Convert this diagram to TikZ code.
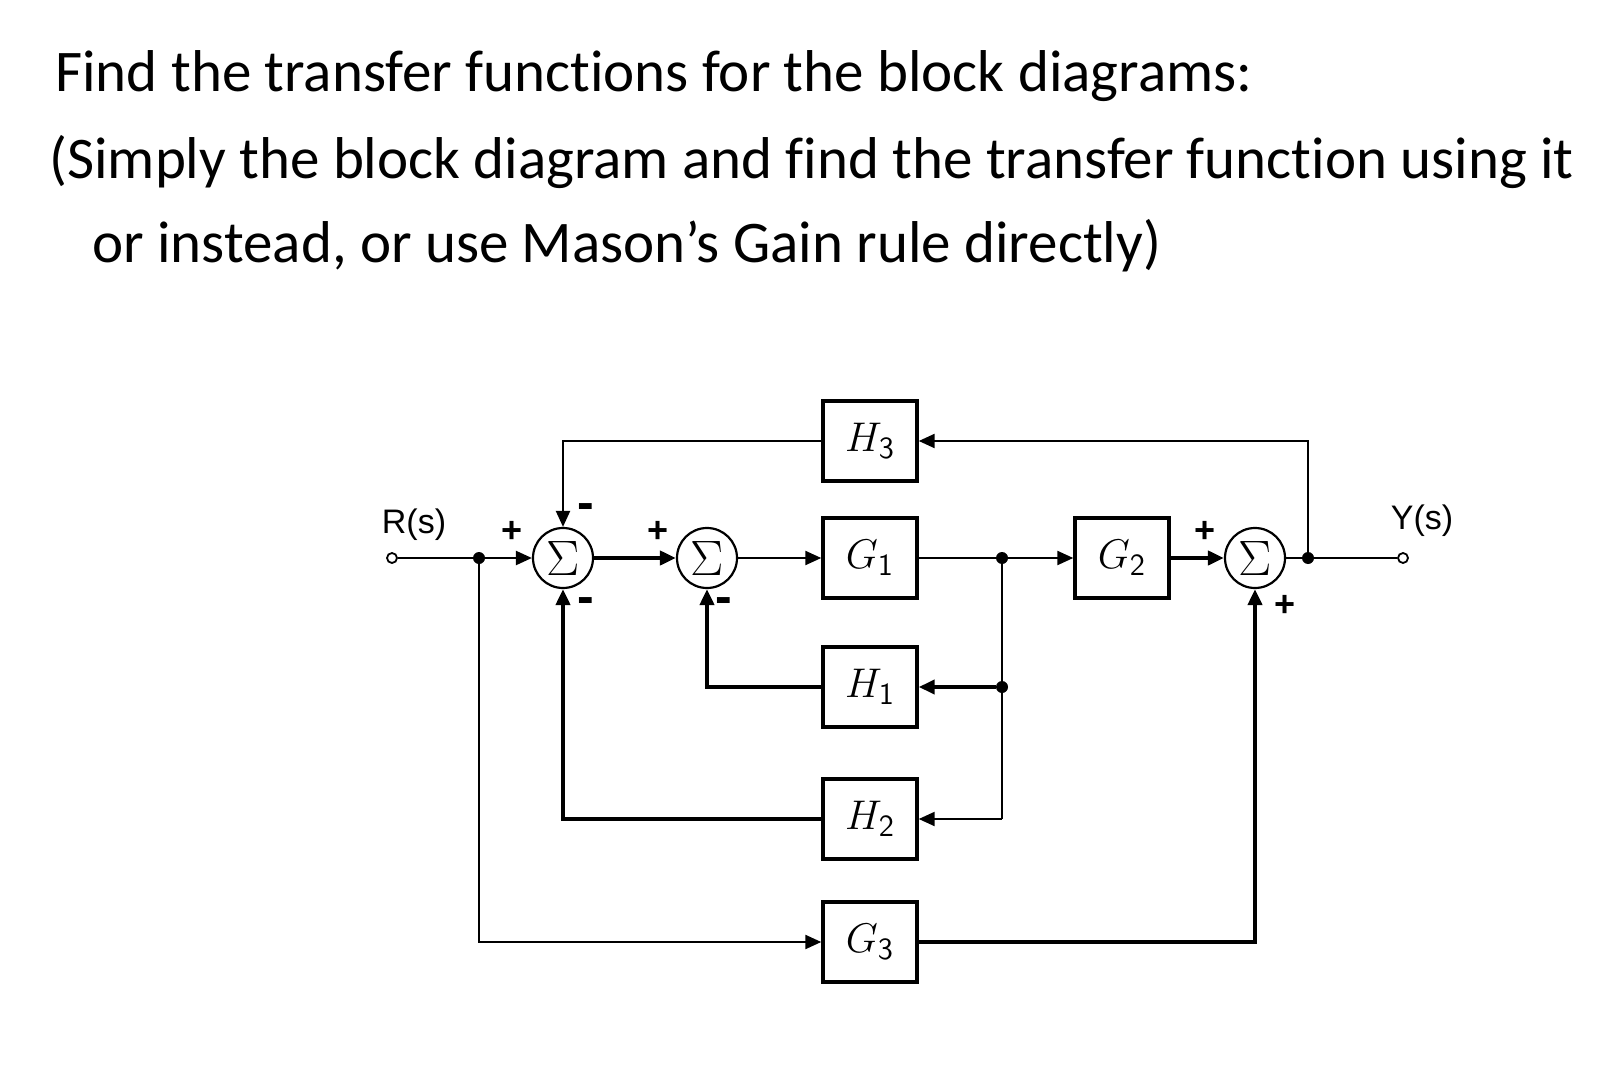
\documentclass[tikz,border=0pt]{standalone}
\usepackage{amsmath}
\usepackage{fontspec}
\setmainfont{Carlito}[Ligatures=NoCommon]
\newfontfamily\labelfont{Liberation Sans}
\usetikzlibrary{arrows.meta, positioning, calc}

\begin{document}
\begin{tikzpicture}[x=0.5pt, y=-0.5pt,
  >={Triangle[length=8pt, width=7pt]},
  wire/.style={line width=1.1pt},
  heavy/.style={line width=2pt},
  blk/.style={draw, line width=1.7pt, minimum width=47pt, minimum height=40pt, inner sep=0pt, font=\fontsize{22}{22}\selectfont},
  sumnode/.style={circle, draw, line width=1.1pt, minimum size=30pt, inner sep=0pt, font=\fontsize{24}{24}\selectfont},
  junc/.style={circle, fill, minimum size=6pt, inner sep=0pt},
  port/.style={circle, draw, fill=white, line width=0.9pt, minimum size=5pt, inner sep=0pt},
  iolabel/.style={font=\labelfont\fontsize{17}{17}\selectfont, inner sep=0pt},
  sign/.style={font=\labelfont\bfseries\fontsize{18}{18}\selectfont, inner sep=0pt},
  minus/.style={font=\labelfont\bfseries\fontsize{25}{25}\selectfont, inner sep=0pt},
  title/.style={anchor=base west, inner sep=0pt, font=\fontsize{29.5}{29.5}\selectfont}]
  \useasboundingbox (0,0) rectangle (1602,1070);

  % Question text
  \node[title] (q1) at (55,92) {Find the transfer functions for the block diagrams:};
  \node[title] (q2) at (49,178) {(Simply the block diagram and find the transfer function using it};
  \node[title] (q3) at (92,262) {or instead, or use Mason’s Gain rule directly)};

  % Blocks
  \node[blk] (h3) at (870,441) {$H_{\mathsf{3}}$};
  \node[blk] (g1) at (870,558) {$G_{\mathsf{1}}$};
  \node[blk] (h1) at (870,687) {$H_{\mathsf{1}}$};
  \node[blk] (h2) at (870,819) {$H_{\mathsf{2}}$};
  \node[blk] (g3) at (870,942) {$G_{\mathsf{3}}$};
  \node[blk] (g2) at (1122,558) {$G_{\mathsf{2}}$};

  % Summing points
  \node[sumnode] (s1) at (563,558) {$\Sigma$};
  \node[sumnode] (s2) at (707,558) {$\Sigma$};
  \node[sumnode] (s3) at (1255,558) {$\Sigma$};

  % Input, output and take-off points
  \node[port] (rin) at (392,558) {};
  \node[port] (yout) at (1403,558) {};
  \node[junc] (j1) at (479,558) {};
  \node[junc] (j2) at (1002,558) {};
  \node[junc] (j3) at (1308,558) {};
  \node[junc] (j4) at (1002,687) {};
  \coordinate (c1) at (1002,819);

  \node[iolabel] (rlab) at (414,525) {R(s)};
  \node[iolabel] (ylab) at (1422,521) {Y(s)};

  % Signs
  \node[sign] at (512,532) {+};
  \node[minus] at (586,512) {-};
  \node[minus] at (586,606) {-};
  \node[sign] at (658,532) {+};
  \node[minus] at (724,606) {-};
  \node[sign] at (1205,532) {+};
  \node[sign] at (1285,606) {+};

  % Forward path
  \draw[wire] (rin) -- (j1);
  \draw[wire, ->] (j1) -- (s1);
  \draw[heavy, ->] (s1) -- (s2);
  \draw[wire, ->] (s2) -- (g1);
  \draw[wire] (g1) -- (j2);
  \draw[wire, ->] (j2) -- (g2);
  \draw[heavy, ->] (g2) -- (s3);
  \draw[wire] (s3) -- (j3);
  \draw[wire] (j3) -- (yout);

  % Feedback through H3
  \draw[wire, ->] (j3) |- (h3);
  \draw[wire, ->] (h3) -| (s1);

  % Feedback through H1 and H2
  \draw[wire] (j2) -- (j4);
  \draw[wire] (j4) -- (c1);
  \draw[heavy, ->] (j4) -- (h1);
  \draw[heavy, ->] (h1) -| (s2);
  \draw[wire, ->] (c1) -- (h2);
  \draw[heavy, ->] (h2) -| (s1);

  % Feedforward through G3
  \draw[wire, ->] (j1) |- (g3);
  \draw[heavy, ->] (g3) -| (s3);
\end{tikzpicture}
\end{document}
